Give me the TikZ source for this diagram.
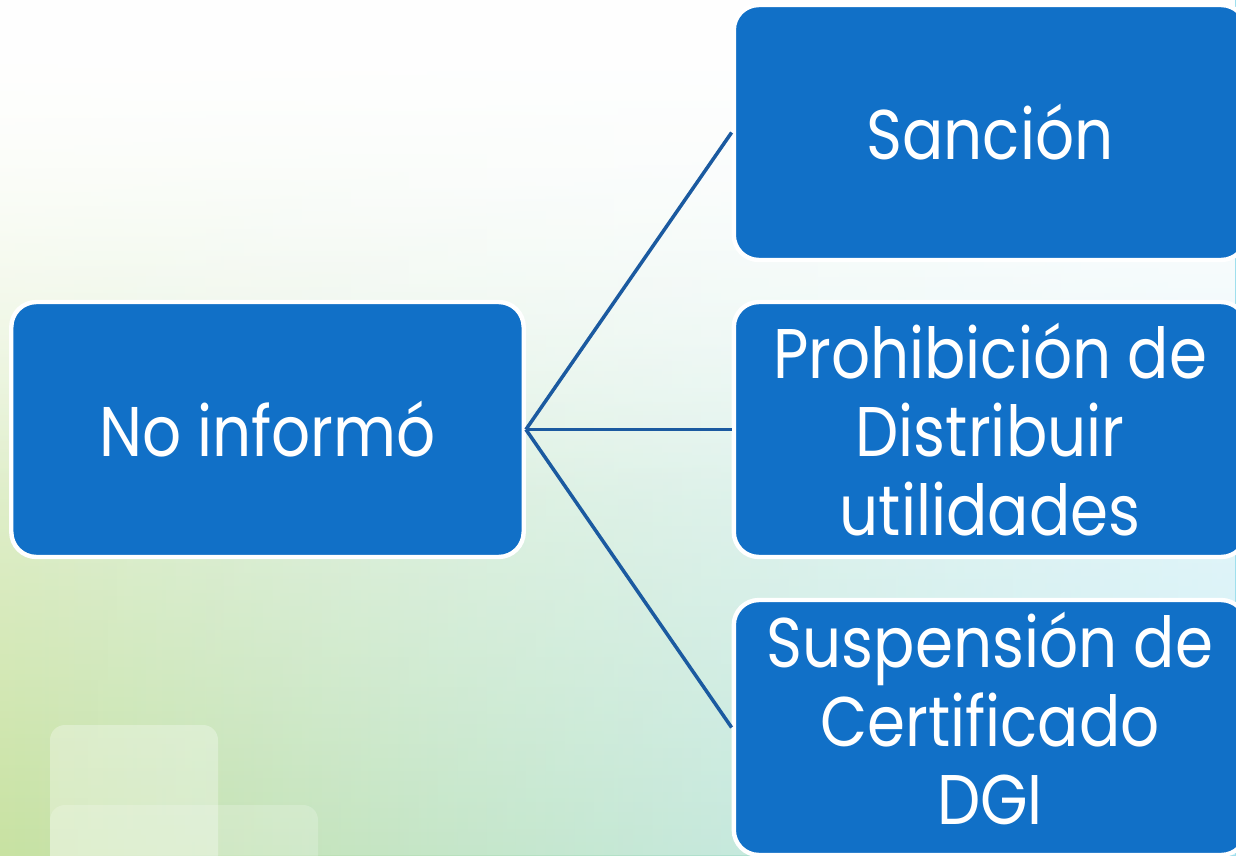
\documentclass[tikz,border=0pt]{standalone}
\usepackage{fontspec}
\setmainfont{Poppins}[FakeStretch=0.87]
\usepackage{tikz}
\usetikzlibrary{calc,positioning,fadings,shapes.geometric}
\definecolor{boxblue}{HTML}{1170C7}
\definecolor{lineblue}{HTML}{1B5AA0}
\definecolor{bggreen}{HTML}{C8E2A2}
\definecolor{bgcyan}{HTML}{9EDFED}
\tikzset{
  % blue rounded box used for every item
  itembox/.style={fill=boxblue, draw=white, line width=2.5pt, rounded corners=0.5cm,
    minimum width=10.25cm, minimum height=5.1cm, align=center, text=white,
    font=\fontsize{40}{44.5}\selectfont, inner sep=0pt},
  branch/.style={draw=lineblue, line width=2pt},
}
\begin{document}
\begin{tikzpicture}[x=0.02cm,y=-0.02cm]
                \useasboundingbox (0,0) rectangle (1236,855);
                \begin{scope}
                \clip (0,0) rectangle (1236,855);
                \shade[left color=bggreen, right color=bgcyan] (0,0) rectangle (1236,855);
                \fill[white, path fading=south] (0,0) rectangle (1236,855);
                \fill[white, path fading=south] (0,0) rectangle (1236,500);
                \fill[white, path fading=west, opacity=0.5] (0,0) rectangle (1236,855);
                \fill[white, opacity=0.3, rounded corners=0.3cm] (50,725) rectangle (218,870);
                \fill[white, opacity=0.2, rounded corners=0.3cm] (50,805) rectangle (318,870);

                \node[itembox] (noinf) at (267.5,429.5) {No informó};
                \node[itembox] (sancion) at (990,132.5) {Sanción};
                \node[itembox] (prohib) at (990,429.5) {Prohibición de\\Distribuir\\utilidades};
                \node[itembox] (susp) at (990,727.5) {Suspensión de\\Certificado\\DGI\\[-34pt]};

                \draw[branch] (noinf.east) -- (sancion.west);
                \draw[branch] (noinf.east) -- (prohib.west);
                \draw[branch] (noinf.east) -- (susp.west);
                \end{scope}
            \end{tikzpicture}
\end{document}
